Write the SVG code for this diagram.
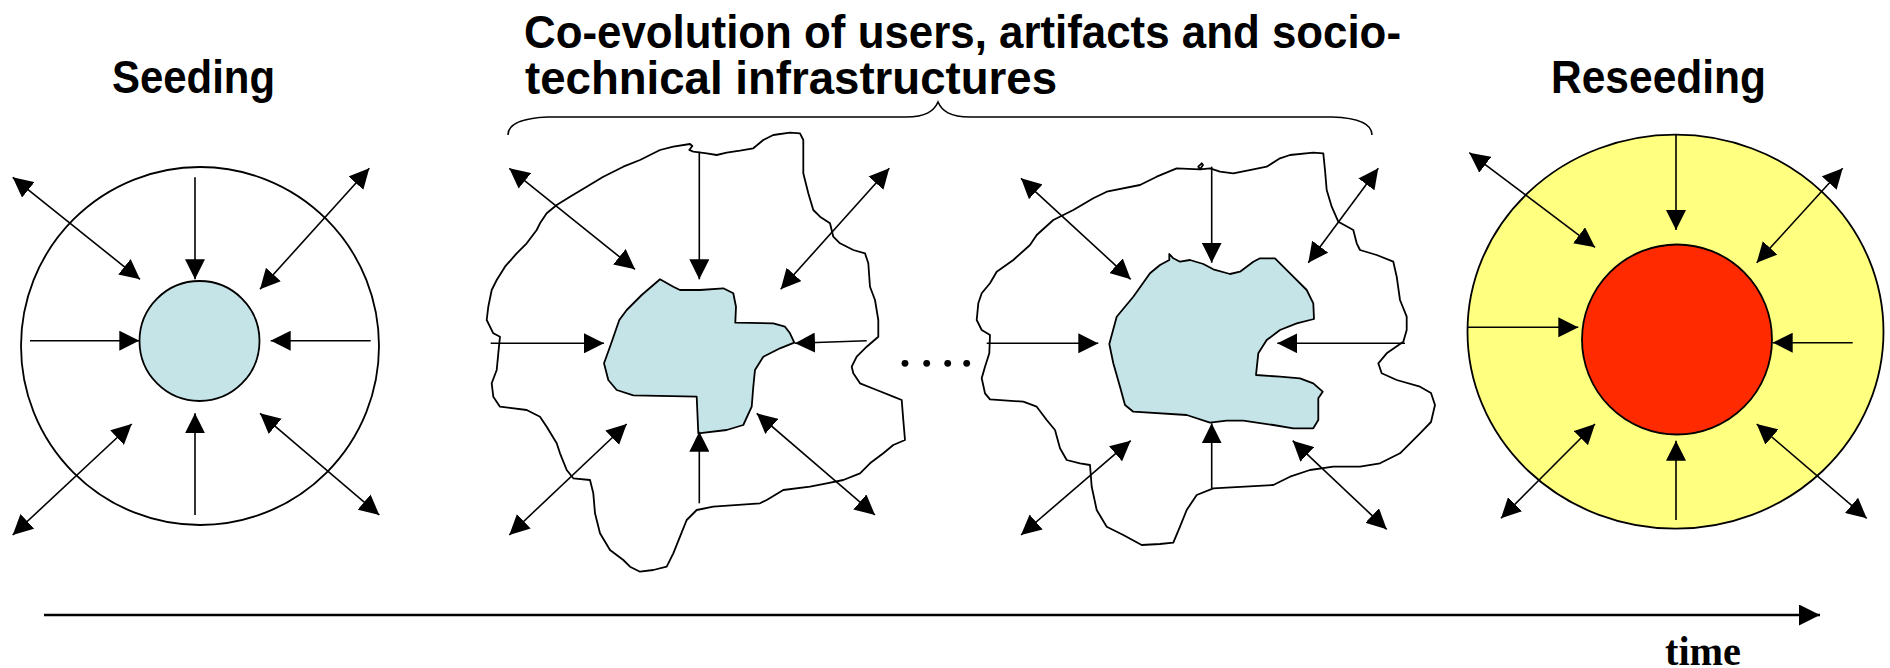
<svg xmlns="http://www.w3.org/2000/svg" width="1890" height="668" viewBox="0 0 1890 668">
<style>
.h{font-family:"Liberation Sans",Arial,sans-serif;font-weight:bold;font-size:46px;fill:#000}
.t{font-family:"Liberation Serif","Times New Roman",serif;font-weight:bold;font-size:42px;fill:#000}
.ln{stroke:#000;stroke-width:1.6;fill:none}
.a1{marker-end:url(#ah)}
.a2{marker-start:url(#ah);marker-end:url(#ah)}
.shape{stroke:#000;stroke-width:1.8;stroke-linejoin:round}
.blue{fill:#C5E4E8}
</style>
<defs>
<marker id="ah" markerUnits="userSpaceOnUse" markerWidth="20" markerHeight="20" refX="20" refY="10" orient="auto-start-reverse" viewBox="0 0 20 20">
<path d="M0,0 L20,10 L0,20 z" fill="#000"/>
</marker>
<marker id="th" markerUnits="userSpaceOnUse" markerWidth="21" markerHeight="21" refX="21" refY="10.5" orient="auto" viewBox="0 0 21 21">
<path d="M0,0 L21,10.5 L0,21 z" fill="#000"/>
</marker>
</defs>
<rect width="1890" height="668" fill="#fff"/>

<g id="labels">
<text class="h" x="112" y="93" textLength="163" lengthAdjust="spacingAndGlyphs">Seeding</text>
<text class="h" x="524" y="48" textLength="877" lengthAdjust="spacingAndGlyphs">Co-evolution of users, artifacts and socio-</text>
<text class="h" x="525" y="94" textLength="532" lengthAdjust="spacingAndGlyphs">technical infrastructures</text>
<text class="h" x="1551" y="93" textLength="215" lengthAdjust="spacingAndGlyphs">Reseeding</text>
<text class="t" x="1665" y="665" textLength="76" lengthAdjust="spacingAndGlyphs">time</text>
</g>

<g id="brace">
<path class="ln" d="M508,135 C508,124 522,118 548,117 L906,117 C926,117 934,111 938,102 C942,111 950,117 970,117 L1332,117 C1360,118 1372,124 1372,135"/>
</g>

<g id="seeding">
<circle class="shape" cx="200" cy="346" r="179" fill="#fff"/>
<circle class="shape blue" cx="199.5" cy="341" r="60"/>
</g>

<g id="coevolution-1">
<path class="shape" fill="#fff" d="M690,144 L673.3,146.7 L660,150 L640,160 L623.3,166.7 L603.3,176.7 L586.7,186.7 L570,196.7 L556.7,205 L546.7,213.3 L540,223.3 L536.7,230 L526.7,243.3 L516.7,253.3 L505,266.7 L496.7,280 L491.7,290 L488.3,306.7 L486.7,320 L493.3,333.3 L500,336.7 L498.3,353.3 L496.7,370 L491.7,383.3 L493.3,396.7 L500,406.7 L526.7,410 L540,416.7 L546.7,426.7 L556.7,443.3 L560,453.3 L566.7,470 L573.3,478.3 L590,480 L593.3,493.3 L595,513.3 L600,533.3 L610,550 L623.3,560 L630,566.7 L640,571.7 L653.3,570 L666.7,566.7 L673.3,553.3 L680,536.7 L686.7,520 L696.7,510 L713.3,506.7 L760,503.3 L766.7,500 L783.3,490 L810,486.7 L826.7,483.3 L843.3,480 L860,473.3 L870,463.3 L883.3,453.3 L893.3,445 L905,440 L903.3,420 L901.7,400 L893.3,396.7 L876.7,390 L860,383.3 L853.3,373.3 L851.7,366.7 L856.7,356.7 L866.7,346.7 L878.3,336.7 L878.3,320 L875,300 L870,286.7 L868.3,263.3 L865,253.3 L853.3,250 L840,243.3 L833.3,236.7 L830,223.3 L820,216.7 L813.3,210 L808.3,193.3 L803.3,173.3 L803.3,140 L800,133.3 L790,132.7 L773.3,135 L763.3,140 L753.3,148.3 L740,150.7 L726.7,152.7 L716.7,155 L706.7,153.3 L693.3,151.7 L689.3,150 L692.3,146 Z"/>
<path class="shape blue" d="M660,279.3 L673.3,286.7 L680,290 L700,290 L723.3,288.3 L733.3,293.3 L736,306.7 L735.3,322.7 L773.3,323.3 L785,326.7 L790,333.3 L794.3,342.7 L780,348.3 L763.3,356.7 L755,370 L753.3,386.7 L751.7,406.7 L743.3,425 L726.7,430 L698.3,433.3 L696.7,396.7 L633.3,395.3 L616.7,390 L608.3,380 L604,363.3 L610,346.7 L619.3,320 L626.7,310 L641.7,295 Z"/>
</g>

<g id="ellipsis">
<circle cx="905" cy="363.3" r="3.4"/>
<circle cx="926.7" cy="363.3" r="3.4"/>
<circle cx="947.7" cy="363.3" r="3.4"/>
<circle cx="966.7" cy="363.3" r="3.4"/>
</g>

<g id="coevolution-2">
<path class="shape" fill="#fff" d="M1201.7,163.3 L1198.3,166.7 L1200,169.3 L1176.7,168.3 L1156.7,176.7 L1140,185 L1106.7,191.7 L1093.3,198.3 L1073.3,210 L1053.3,220 L1036.7,235 L1030,245 L1013.3,260 L996.7,271.7 L990,283.3 L981.7,293.3 L978.3,303.3 L976.7,320 L981.7,330 L990,335 L989.3,353.3 L985,366.7 L981.7,378.3 L985,393.3 L990,399.3 L1023.3,401.7 L1036.7,406.7 L1046.7,420 L1055,430 L1060,448.3 L1066.7,460 L1080,463.3 L1090,465 L1091.7,486.7 L1096.7,510 L1106.7,526.7 L1123.3,535 L1141.7,545 L1160,544 L1173.3,542.7 L1180,526.7 L1186.7,510 L1196.7,495 L1213.3,488.3 L1273.3,485 L1290,476.7 L1310,470 L1333.3,466.7 L1360,466.7 L1380,463.3 L1400,453.3 L1420,433.3 L1431,422 L1435,405 L1431,393 L1420,386.7 L1396.7,380 L1381.7,373.3 L1378.3,363.3 L1386.7,353.3 L1403.3,341.7 L1406.7,330 L1406.7,316.7 L1400,300 L1396.7,276.7 L1393.3,261.7 L1376.7,255 L1360,250 L1356.7,243.3 L1353.3,230 L1338.3,221.7 L1331.7,206.7 L1326.7,190 L1325,170 L1323.3,153.3 L1313.3,152.7 L1290,155 L1280,158.3 L1266.7,166.7 L1253.3,169.3 L1233.3,173.3 L1220,171.7 L1210,168.3 L1200,169.3 L1203,165 Z"/>
<path class="shape blue" d="M1169.3,254 L1173.3,258.3 L1180,261.7 L1190,260 L1203.3,264 L1213.3,269.3 L1230,274 L1240,271.7 L1253.3,261.7 L1260,258.3 L1275,258.3 L1280,263.3 L1293.3,276.7 L1306.7,290 L1313.3,303.3 L1314,319 L1296.7,323.3 L1280,330 L1266.7,340 L1258.3,353.3 L1256,375 L1280,376.7 L1300,378.3 L1313.3,383.3 L1322.7,391.7 L1318.3,398.3 L1318.3,420 L1313.3,428.3 L1293.3,428.3 L1273.3,425 L1243.3,420.7 L1226.7,420.7 L1210,422.7 L1186.7,415 L1133.3,411.7 L1125,405 L1120,386.7 L1113.3,363.3 L1109.3,344 L1116.7,316.7 L1133.3,296.7 L1150,273.3 L1160,265 L1169.3,260 Z"/>
</g>

<g id="reseeding">
<ellipse class="shape" cx="1675.5" cy="331.7" rx="208" ry="197" fill="#FFFF80"/>
<circle class="shape" cx="1677" cy="339.5" r="95" fill="#FF2A00"/>
</g>

<g id="connectors">
<!-- seeding -->
<line class="ln a1" x1="195" y1="177.3" x2="195" y2="279.3"/>
<line class="ln a1" x1="195" y1="515" x2="195" y2="413.3"/>
<line class="ln a1" x1="30" y1="340.7" x2="139.3" y2="340.7"/>
<line class="ln a1" x1="370.7" y1="340.7" x2="270.7" y2="340.7"/>
<line class="ln a2" x1="12.7" y1="177.3" x2="140" y2="279.3"/>
<line class="ln a2" x1="369.3" y1="168.3" x2="260" y2="289.3"/>
<line class="ln a2" x1="12.7" y1="535" x2="131.7" y2="424"/>
<line class="ln a2" x1="379.3" y1="515" x2="260" y2="413.3"/>
<!-- coevolution 1 -->
<line class="ln a2" x1="509.3" y1="168.3" x2="635" y2="269.3"/>
<line class="ln a1" x1="699.3" y1="151.7" x2="699.3" y2="279.3"/>
<line class="ln a2" x1="889.3" y1="168.3" x2="780.7" y2="289.3"/>
<line class="ln a1" x1="490.7" y1="343.3" x2="604" y2="343.3"/>
<line class="ln a1" x1="866.7" y1="340.7" x2="795" y2="343.3"/>
<line class="ln a2" x1="509.3" y1="535" x2="626.7" y2="424"/>
<line class="ln a1" x1="699.3" y1="503.3" x2="699.3" y2="431.7"/>
<line class="ln a2" x1="875" y1="515" x2="756.7" y2="413.3"/>
<!-- coevolution 2 -->
<line class="ln a2" x1="1021" y1="178.3" x2="1130.7" y2="279.3"/>
<line class="ln a1" x1="1211.7" y1="166.7" x2="1211.7" y2="262.7"/>
<line class="ln a2" x1="1378.3" y1="168.3" x2="1308.3" y2="262.7"/>
<line class="ln a1" x1="986.7" y1="343.3" x2="1098.3" y2="343.3"/>
<line class="ln a1" x1="1405" y1="343.3" x2="1277.3" y2="343.3"/>
<line class="ln a2" x1="1021" y1="535" x2="1130.7" y2="440.7"/>
<line class="ln a1" x1="1211.7" y1="488.3" x2="1211.7" y2="423.3"/>
<line class="ln a2" x1="1386.7" y1="529.3" x2="1292.7" y2="440.7"/>
<!-- reseeding -->
<line class="ln a1" x1="1676" y1="135" x2="1676" y2="230"/>
<line class="ln a2" x1="1469.3" y1="152.7" x2="1595" y2="247.3"/>
<line class="ln a2" x1="1842.7" y1="168.3" x2="1756.7" y2="262.7"/>
<line class="ln a1" x1="1467.3" y1="327.3" x2="1578.3" y2="327.3"/>
<line class="ln a1" x1="1852.7" y1="342.7" x2="1772.7" y2="342.7"/>
<line class="ln a2" x1="1501" y1="518.3" x2="1595" y2="424"/>
<line class="ln a1" x1="1676" y1="520" x2="1676" y2="440.7"/>
<line class="ln a2" x1="1866.7" y1="518.3" x2="1756.7" y2="424"/>
<!-- time axis -->
<line x1="44" y1="615" x2="1820" y2="615" stroke="#000" stroke-width="2.6" marker-end="url(#th)"/>
</g>
</svg>
